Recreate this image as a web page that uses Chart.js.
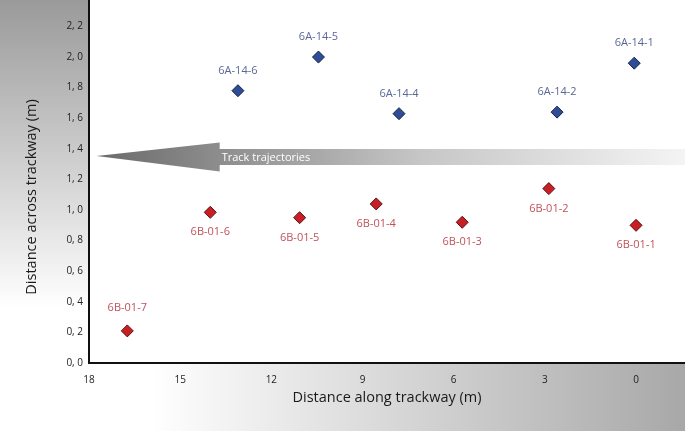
<!DOCTYPE html>
<html>
<head>
<meta charset="utf-8">
<script src="https://cdn.jsdelivr.net/npm/chart.js@4.4.0/dist/chart.umd.min.js"></script>
<style>
  html, body { margin: 0; padding: 0; background: #fff; }
  #wrap { width: 685px; height: 431px; position: relative; }
</style>
</head>
<body>
<div id="wrap"><canvas id="trackChart"></canvas></div>
<script>
// trackway 6A-14 (blue) and 6B-01 (red), positions in metres
const blueLabels = ["6A-14-1", "6A-14-2", "6A-14-4", "6A-14-5", "6A-14-6"];
const blueAlong = [0.06, 2.6, 7.8, 10.45, 13.1];
const blueAcross = [1.96, 1.64, 1.63, 2.0, 1.78];

const redLabels = ["6B-01-1", "6B-01-2", "6B-01-3", "6B-01-4", "6B-01-5", "6B-01-6", "6B-01-7"];
const redAlong = [0.0, 2.87, 5.72, 8.55, 11.07, 14.01, 16.74];
const redAcross = [0.90, 1.14, 0.92, 1.04, 0.95, 0.985, 0.21];

const xTicks = [0, 3, 6, 9, 12, 15, 18];
const yTicks = [0, 0.2, 0.4, 0.6, 0.8, 1.0, 1.2, 1.4, 1.6, 1.8, 2.0, 2.2];

const arrowText = "Track trajectories";
const xTitle = "Distance along trackway (m)";
const yTitle = "Distance across trackway (m)";

const FONT = "'Open Sans', 'Noto Sans', sans-serif";

function toPoints(xs, ys) {
    return xs.map((x, i) => ({ x: x, y: ys[i] }));
}

// grey panels behind the axes
const backdrop = {
    id: "backdrop",
    beforeDraw(chart) {
        const { ctx, chartArea: a, width, height } = chart;
        ctx.save();
        ctx.fillStyle = "#fff";
        ctx.fillRect(0, 0, width, height);
        let g = ctx.createLinearGradient(0, 0, 0, a.bottom);
        g.addColorStop(0, "#9a9a9a");
        g.addColorStop(0.45, "#cfcfcf");
        g.addColorStop(0.85, "#ffffff");
        ctx.fillStyle = g;
        ctx.fillRect(0, 0, a.left, a.bottom);
        g = ctx.createLinearGradient(0, 0, width, 0);
        g.addColorStop(0.22, "#ffffff");
        g.addColorStop(1, "#a8a8a8");
        ctx.fillStyle = g;
        ctx.fillRect(0, a.bottom, width, height - a.bottom);
        ctx.restore();
    }
};

// big arrow pointing along the trackway
const arrow = {
    id: "arrow",
    beforeDatasetsDraw(chart) {
        const { ctx, chartArea: a } = chart;
        const xs = chart.scales.x, ys = chart.scales.y;
        const tip = xs.getPixelForValue(17.75);
        const back = xs.getPixelForValue(13.7);
        const end = a.right;
        const cy = ys.getPixelForValue(1.346);
        ctx.save();
        const g = ctx.createLinearGradient(tip, 0, end, 0);
        g.addColorStop(0, "#6a6a6a");
        g.addColorStop(0.22, "#8f8f8f");
        g.addColorStop(0.55, "#c6c6c6");
        g.addColorStop(1, "#f4f4f4");
        ctx.fillStyle = g;
        ctx.beginPath();
        ctx.moveTo(tip, cy - 1);
        ctx.lineTo(back, cy - 14.5);
        ctx.lineTo(back, cy - 8);
        ctx.lineTo(end, cy - 8);
        ctx.lineTo(end, cy + 8);
        ctx.lineTo(back, cy + 8);
        ctx.lineTo(back, cy + 14.5);
        ctx.closePath();
        ctx.fill();
        ctx.fillStyle = "#fff";
        ctx.font = "11px " + FONT;
        ctx.textBaseline = "middle";
        ctx.fillText(arrowText, back + 2, cy + 0.5);
        ctx.restore();
    }
};

// point names and axis titles
const names = {
    id: "names",
    afterDatasetsDraw(chart) {
        const { ctx } = chart;
        ctx.save();
        ctx.font = "11px " + FONT;
        ctx.textAlign = "center";
        ctx.textBaseline = "middle";
        chart.data.datasets.forEach((ds, di) => {
            const meta = chart.getDatasetMeta(di);
            meta.data.forEach((pt, i) => {
                let dy;
                if (di === 0) dy = -20;
                else dy = ds.data[i].y < 0.5 ? -23 : 20;
                ctx.fillStyle = ds.labelColor;
                ctx.fillText(ds.names[i], pt.x, pt.y + dy);
            });
        });
        ctx.restore();
    },
    afterDraw(chart) {
        const { ctx, chartArea: a } = chart;
        ctx.save();
        ctx.fillStyle = "#1a1a1a";
        ctx.font = "14.5px " + FONT;
        ctx.textAlign = "center";
        ctx.textBaseline = "middle";
        ctx.fillText(xTitle, (a.left + a.right) / 2, 398);
        ctx.translate(32, 197);
        ctx.rotate(-Math.PI / 2);
        ctx.fillText(yTitle, 0, 0);
        ctx.restore();
    }
};

const tickFont = { family: FONT, size: 10 };

new Chart(document.getElementById("trackChart"), {
    type: "scatter",
    data: {
        datasets: [
            {
                label: "6A-14",
                names: blueLabels,
                labelColor: "#5a6796",
                data: toPoints(blueAlong, blueAcross),
                pointStyle: "rectRot",
                pointRadius: 6,
                pointBorderWidth: 1,
                backgroundColor: "#2f4d97",
                borderColor: "#1a2447"
            },
            {
                label: "6B-01",
                names: redLabels,
                labelColor: "#c0525a",
                data: toPoints(redAlong, redAcross),
                pointStyle: "rectRot",
                pointRadius: 6,
                pointBorderWidth: 1,
                backgroundColor: "#c81f27",
                borderColor: "#5a1212"
            }
        ]
    },
    options: {
        responsive: true,
        maintainAspectRatio: false,
        animation: false,
        layout: { padding: 0, autoPadding: false },
        plugins: {
            legend: { display: false },
            tooltip: { enabled: false }
        },
        scales: {
            x: {
                type: "linear",
                reverse: true,
                min: -1.61,
                max: 18,
                afterBuildTicks: s => { s.ticks = xTicks.map(v => ({ value: v })); },
                afterFit: s => { s.height = 68; s.paddingLeft = 0; s.paddingRight = 0; },
                grid: { display: false, drawTicks: false },
                border: { display: true, color: "#111", width: 2 },
                ticks: { padding: 11, color: "#222", font: tickFont, maxRotation: 0, autoSkip: false }
            },
            y: {
                type: "linear",
                min: 0,
                max: 2.373,
                afterBuildTicks: s => { s.ticks = yTicks.map(v => ({ value: v })); },
                afterFit: s => { s.width = 89; s.paddingTop = 0; s.paddingBottom = 0; },
                grid: { display: false, drawTicks: false },
                border: { display: true, color: "#111", width: 2 },
                ticks: {
                    padding: 6, color: "#222", font: tickFont, autoSkip: false,
                    callback: v => v.toFixed(1).replace(".", ", ")
                }
            }
        }
    },
    plugins: [backdrop, arrow, names]
});
</script>
</body>
</html>
